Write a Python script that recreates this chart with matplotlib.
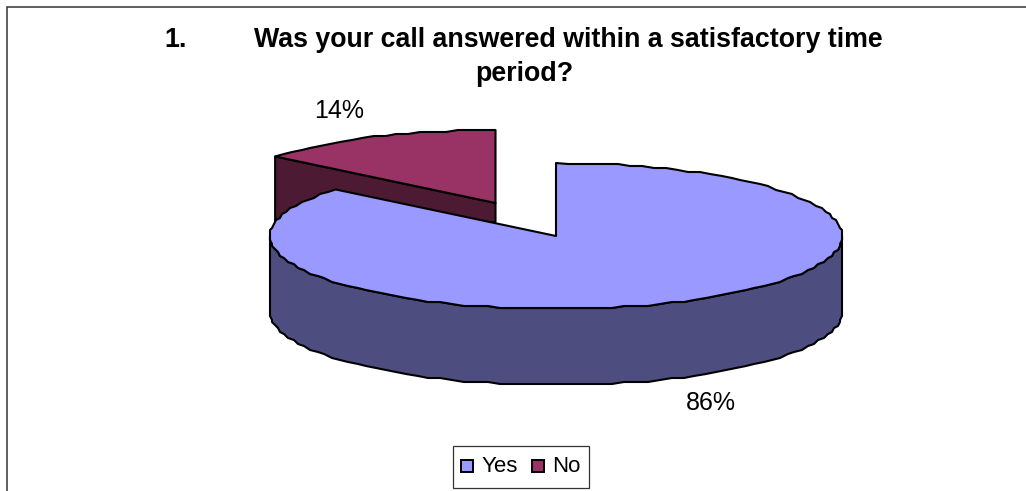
import numpy as np
import matplotlib
matplotlib.use("Agg")
import matplotlib.pyplot as plt
from matplotlib.patches import Polygon, Rectangle

categories = ["Yes", "No"]
shares = [86, 14]
labels = ["86%", "14%"]
colors = ["#9999FF", "#993366"]
wall_colors = ["#4D4D80", "#4D1A33"]
title_num = "1."
title_l1 = "Was your call answered within a satisfactory time"
title_l2 = "period?"

W, H = 1026, 491
fig = plt.figure(figsize=(W/100, H/100), dpi=100)
ax = fig.add_axes([0, 0, 1, 1])
ax.set_xlim(0, W); ax.set_ylim(H, 0); ax.axis("off")
FONT = "Liberation Sans"
LW = 1.5

RX, RY, DEPTH = 286, 73, 76
YES_C = (556, 236)
NO_C = (495.5, 203)
NO_WALL = 19

def pt(c, t):
    return (c[0] + RX*np.sin(t), c[1] - RY*np.cos(t))

def arc(c, t):
    # outline drawn in short snapped segments, as the original's rough curve
    xy = np.column_stack([c[0] + RX*np.sin(t), c[1] - RY*np.cos(t)])
    xy[1:-1] = np.round(xy[1:-1]/2.0)*2.0
    return xy

def angles(t0, t1, step=np.radians(2.5)):
    return np.linspace(t0, t1, max(2, int(abs(t1 - t0)/step) + 1))

split = 2*np.pi*shares[0]/sum(shares)

# Chart frame: only left and top edges are visible in the crop
ax.plot([7, 7, W], [H, 7, 7], color="#333333", lw=1.1, solid_joinstyle="miter")

# "No" slice: cut wall, then top
p_left = pt(NO_C, split)
ax.add_patch(Polygon([p_left, NO_C, (NO_C[0], NO_C[1]+NO_WALL), (p_left[0], p_left[1]+DEPTH)],
                     closed=True, fc=wall_colors[1], ec="black", lw=LW, joinstyle="round"))
top_no = np.vstack([[NO_C], arc(NO_C, angles(split, 2*np.pi))])
ax.add_patch(Polygon(top_no, closed=True, fc=colors[1], ec="black", lw=LW, joinstyle="round"))

# "Yes" slice: outer wall shares the top face's outline, then top
yes_t = angles(0, split)
yes_arc = arc(YES_C, yes_t)
front = yes_arc[(yes_t >= np.pi/2 - 0.03) & (yes_t <= 3*np.pi/2 + 0.03)]
wall = np.vstack([front, (front + [0, DEPTH])[::-1]])
ax.add_patch(Polygon(wall, closed=True, fc=wall_colors[0], ec="black", lw=LW, joinstyle="round"))
top_yes = np.vstack([[YES_C], yes_arc])
ax.add_patch(Polygon(top_yes, closed=True, fc=colors[0], ec="black", lw=LW, joinstyle="round"))

# Title
TS = 19.3
ax.text(164, 46.5, title_num, fontfamily=FONT, fontweight="bold", fontsize=TS, ha="left", va="baseline", color="black")
ax.text(568, 46.5, title_l1, fontfamily=FONT, fontweight="bold", fontsize=TS, ha="center", va="baseline", color="black")
ax.text(524, 81, title_l2, fontfamily=FONT, fontweight="bold", fontsize=TS, ha="center", va="baseline", color="black")

# Value labels
ax.text(339.5, 118, labels[1], fontfamily=FONT, fontsize=18, ha="center", va="baseline", color="black")
ax.text(711, 410, labels[0], fontfamily=FONT, fontsize=18, ha="center", va="baseline", color="black")

# Legend
ax.add_patch(Rectangle((452.5, 446), 136.5, 42, fc="white", ec="#333333", lw=0.9))
ax.add_patch(Rectangle((461, 460), 12, 12, fc=colors[0], ec="black", lw=1.4))
ax.text(481.5, 472, categories[0], fontfamily=FONT, fontsize=16, ha="left", va="baseline", color="black")
ax.add_patch(Rectangle((532, 460), 12, 12, fc=colors[1], ec="black", lw=1.4))
ax.text(552.5, 472, categories[1], fontfamily=FONT, fontsize=16, ha="left", va="baseline", color="black")

fig.savefig("out.png", dpi=100)
